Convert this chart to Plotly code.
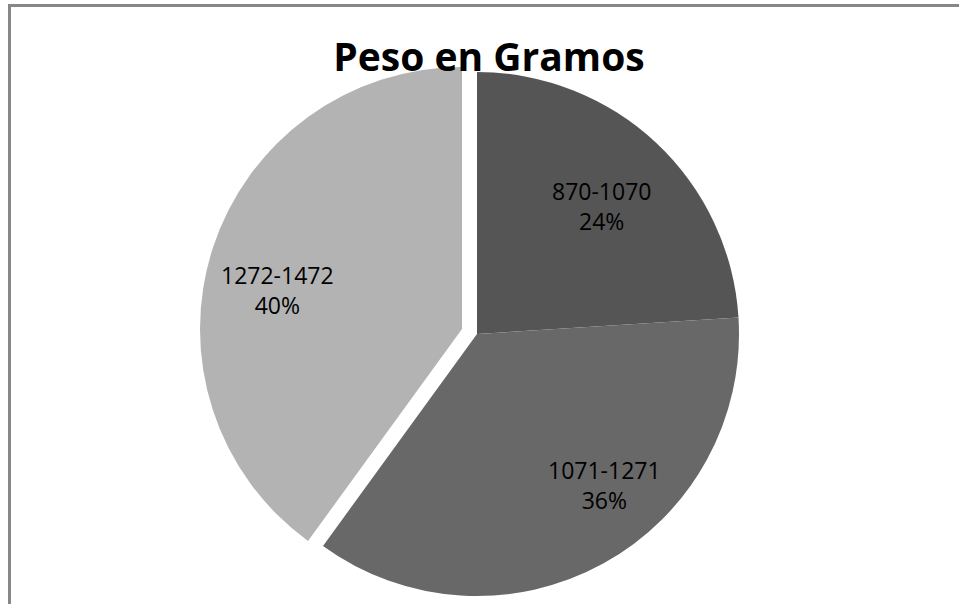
import math
import plotly.graph_objects as go

# Data
categories = ["870-1070", "1071-1271", "1272-1472"]
values = [24, 36, 40]
title_text = "Peso en Gramos"

W, H = 959, 604
R = 262
centers = [(477, 334), (477, 334), (462, 329)]  # pixel centres (third slice exploded)
colors_main = ["#555555", "#686868", "rgba(0,0,0,0)"]
colors_pulled = ["rgba(0,0,0,0)", "rgba(0,0,0,0)", "#b3b3b3"]
# label placement style (best-fit like the original): radius fraction and angle shift
label_frac = [0.68, 0.755, 0.72]
label_shift_deg = [1.0, -11.5, -6.0]


def dom(cx, cy, r):
    return dict(x=[(cx - r) / W, (cx + r) / W], y=[1 - (cy + r) / H, 1 - (cy - r) / H])


common = dict(
    labels=categories,
    values=values,
    sort=False,
    direction="clockwise",
    rotation=0,
    textinfo="none",
    hoverinfo="skip",
    showlegend=False,
)

fig = go.Figure()
fig.add_trace(go.Pie(
    **common,
    marker=dict(colors=colors_main, line=dict(width=0)),
    domain=dom(*centers[0], R),
))
fig.add_trace(go.Pie(
    **common,
    marker=dict(colors=colors_pulled, line=dict(width=0)),
    domain=dom(*centers[2], R),
))

# data labels computed from the values (mid-angle of each slice)
total = sum(values)
annotations = []
cum = 0
for i, (lab, v) in enumerate(zip(categories, values)):
    mid = (cum + v / 2) / total * 360 + label_shift_deg[i]
    cum += v
    cx, cy = centers[i]
    rr = label_frac[i] * R
    px = cx + rr * math.sin(math.radians(mid))
    py = cy - rr * math.cos(math.radians(mid))
    pct = round(v / total * 100)
    annotations.append(dict(
        x=px / W, y=1 - py / H, xref="paper", yref="paper",
        xanchor="center", yanchor="middle", showarrow=False,
        text=f"{lab}<br>{pct}%",
        font=dict(family="Open Sans", size=23, color="#000000"),
    ))

fig.update_layout(
    width=W,
    height=H,
    margin=dict(l=0, r=0, t=0, b=0),
    paper_bgcolor="white",
    plot_bgcolor="white",
    title=dict(
        text=title_text,
        x=489 / W,
        xanchor="center",
        y=1 - 57 / H,
        yanchor="middle",
        yref="paper",
        font=dict(family="Open Sans", size=39, color="#000000", weight="bold"),
    ),
    annotations=annotations,
    shapes=[
        dict(type="line", xref="paper", yref="paper", x0=9.5 / W, x1=1.01, y0=1 - 5.5 / H, y1=1 - 5.5 / H,
             line=dict(color="#878787", width=3)),
        dict(type="line", xref="paper", yref="paper", x0=9.5 / W, x1=9.5 / W, y0=1 - 4 / H, y1=-0.01,
             line=dict(color="#878787", width=3)),
    ],
)

fig.write_html("out.html")
